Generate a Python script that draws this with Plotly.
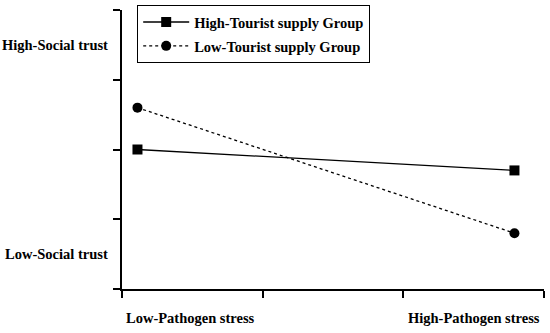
import plotly.graph_objects as go

x_pos = [0.11, 2.79]
high_tourist = [2.0, 1.7]
low_tourist = [2.6, 0.8]
series_names = ["High-Tourist supply Group", "Low-Tourist supply Group"]
y_labels = ["High-Social trust", "Low-Social trust"]
y_label_pos = [3.5, 0.5]
x_labels = ["Low-Pathogen stress", "High-Pathogen stress"]
x_label_pos = [0.49, 2.50]

font_family = "Liberation Serif, Times New Roman, serif"

fig = go.Figure()
fig.add_trace(go.Scatter(
    x=x_pos, y=high_tourist, name=series_names[0], mode="lines+markers",
    legendgroup="a",
    line=dict(color="black", width=1.3),
    marker=dict(symbol="square", size=10, color="black"),
))
fig.add_trace(go.Scatter(
    x=x_pos, y=low_tourist, name=series_names[1], mode="lines+markers",
    legendgroup="b",
    line=dict(color="black", width=1.3, dash="3px,3px"),
    marker=dict(symbol="circle", size=10, color="black"),
))

annotations = []
for lab, yv in zip(y_labels, y_label_pos):
    annotations.append(dict(text=lab, x=-0.028, xref="paper", y=yv, yref="y",
                            xanchor="right", yanchor="middle", showarrow=False,
                            font=dict(family=font_family, size=14.5, color="black", weight="bold")))
for lab, xv in zip(x_labels, x_label_pos):
    annotations.append(dict(text=lab, x=xv, xref="x", y=-0.104, yref="paper",
                            xanchor="center", yanchor="middle", showarrow=False,
                            font=dict(family=font_family, size=14.5, color="black", weight="bold")))

fig.update_layout(
    width=550, height=333,
    margin=dict(l=122, r=6, t=9, b=44),
    plot_bgcolor="white", paper_bgcolor="white",
    showlegend=True,
    legend=dict(x=0.036, y=1.014, xanchor="left", yanchor="top",
                bordercolor="black", borderwidth=1, bgcolor="white",
                font=dict(family=font_family, size=14.5, color="black", weight="bold"),
                tracegroupgap=2, itemwidth=46),
    annotations=annotations,
)
fig.update_xaxes(range=[0, 3], tickvals=[0, 1, 2, 3], ticktext=["", "", "", ""],
                 showline=True, linecolor="black", linewidth=2,
                 ticks="outside", ticklen=7, tickwidth=2, tickcolor="black",
                 showgrid=False, zeroline=False)
fig.update_yaxes(range=[0, 4], tickvals=[0, 1, 2, 3, 4], ticktext=["", "", "", "", ""],
                 showline=True, linecolor="black", linewidth=2,
                 ticks="outside", ticklen=7, tickwidth=2, tickcolor="black",
                 showgrid=False, zeroline=False)

fig.write_html("out.html", config={"displayModeBar": False},
               post_script="document.body.style.margin='0px';")
